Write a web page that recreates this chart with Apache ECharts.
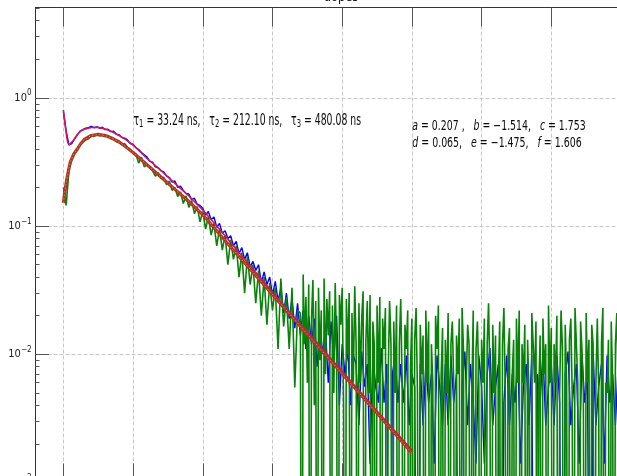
<!DOCTYPE html>
<html><head><meta charset="utf-8">
<script src="https://cdn.jsdelivr.net/npm/echarts@6/dist/echarts.min.js"></script>
<style>html,body{margin:0;padding:0;background:#fff}#c{width:617px;height:476px}</style>
</head><body><div id="c"></div>
<script>
// ---- data ----
const blueStepNs = 8;              // blue decay: one sample every 8 ns from t = 0
const blueData = [
0.78,0.55,0.43,0.44,0.48,0.515,0.55,0.565,0.58,0.585,
0.60,0.585,0.595,0.58,0.59,0.565,0.57,0.545,0.55,0.52,
0.515,0.49,0.485,0.47,0.44,0.435,0.41,0.395,0.375,0.36,
0.345,0.32,0.315,0.29,0.285,0.27,0.265,0.245,0.24,0.22,
0.225,0.2,0.205,0.19,0.18,0.178,0.16,0.165,0.148,0.145,
0.138,0.122,0.13,0.112,0.118,0.098,0.105,0.088,0.092,0.08,
0.084,0.07,0.076,0.061,0.068,0.055,0.062,0.048,0.053,0.045,
0.05,0.036,0.044,0.035,0.04,0.029,0.037,0.026,0.033,0.021,
0.03,0.019,0.027,0.016,0.025,0.014,0.022,0.011,0.02,0.012,
0.019,0.008,0.017,0.01,0.016,0.006,0.018,0.009,0.02,0.004,
0.012,
0.007,0.011,0.004,0.0098,0.0084,0.0028,0.0105,0.0056,0.0084,0.0014,0.0098,0.0056,0.0042,0.0112,0.0042,0.0084,0,0.007,0.0098,0.0042,
0.0084,0.0042,0.0098,0.0028,0.007,0.0056,0,0.0084,0.0028,0.0084,0.0042,0.007,0.0014,0.0098,0.0056,0.0028,0.0084,0.0028,0.0098,0.0042,
0.007,0,0.0056,0.0105,0.0028,0.0084,0.0042,0.0014,0.0098,0.0056,0.0014,0.007,0.0112,0.0028,0.0056,0.0084,0,0.0042,0.0098,0.0028,
0.007,0.0042,0.0098,0.0014,0.0056,0.0084,0.0028,0.0098,0,0.007,0.0042,0.0105,0.0028,0.0056,0.0084,0.0028,0.0098,0.0042,0,0.007,
0.0105,0.0028,0.0056,0.0084,0.0014,0.0098,0.0042,0.007,0,0.0105,0.0028,0.0056,0.0084,0.0014,0.0098,0.0042,0.007,0.0028,0.0084
];
const greenEarlyStepNs = 8;        // green decay, t = 0 … 672 ns
const greenEarly = [
0.2,0.145,0.27,0.33,0.37,0.39,0.43,0.45,0.47,0.48,
0.51,0.5,0.52,0.505,0.515,0.5,0.51,0.48,0.485,0.455,
0.46,0.43,0.44,0.41,0.395,0.37,0.365,0.31,0.345,0.29,
0.3,0.285,0.27,0.245,0.262,0.235,0.24,0.21,0.225,0.19,
0.2,0.17,0.185,0.15,0.172,0.14,0.158,0.125,0.142,0.108,
0.13,0.095,0.118,0.085,0.105,0.07,0.095,0.065,0.085,0.05,
0.078,0.055,0.07,0.04,0.062,0.03,0.058,0.035,0.05,0.025,
0.045,0.02,0.04,0.017,0.036,0.022,0.033,0.011,0.039,0.0165,
0.028,0.011,0.033,0.0055,0.022
];
const greenLateStartNs = 680;      // green decay tail, t = 680 … 1596 ns
const greenLateStepNs = 4;
const greenLate = [
0.021,0,0.042,0.012,0.028,0.006,0.035,0,0.019,0.038,0.004,0.026,0,0.033,0.009,0.022,0,0.039,0.007,0.027,
0.014,0.031,0,0.024,0.005,0.036,0.011,0,0.029,0.017,0.033,0.004,0,0.027,0.01,0.03,0,0.021,0.006,0.034,
0.012,0,0.025,0.006,0.019,0.031,0,0.013,0.026,0.005,0.029,0,0.018,0.012,0,0.024,0.006,0.028,0,0.019,
0.011,0.023,0,0.007,0.026,0.012,0,0.018,0.005,0.024,0,0.012,0.027,0.006,0,0.017,0.011,0.022,0,0.008,
0.019,0,0.013,0.023,0.005,0,0.017,0.007,0.014,0,0.022,0.006,0.018,0,0.012,0.006,0,0.02,0.011,0.024,
0,0.007,0.016,0,0.013,0.005,0.021,0,0.012,0.018,0.006,0,0.014,0.007,0.019,0,0.023,0.011,0,0.006,
0.017,0.012,0,0.005,0.022,0,0.011,0.018,0.006,0,0.013,0.006,0.019,0,0.012,0.025,0.006,0,0.017,0.005,
0.014,0,0.006,0.018,0,0.012,0.023,0.005,0,0.011,0.016,0,0.007,0.013,0,0.019,0.006,0.022,0,0.012,
0.006,0.017,0,0.013,0.005,0,0.021,0.012,0.006,0.018,0,0.005,0.014,0,0.019,0.007,0.012,0,0.024,0.006,
0.016,0,0.012,0.006,0.02,0,0.005,0.022,0.011,0,0.017,0.006,0,0.013,0.019,0.005,0,0.023,0.012,0.006,
0,0.018,0.011,0.005,0,0.021,0.006,0.013,0,0.017,0.012,0,0.006,0.019,0.005,0,0.012,0.023,0,0.006,
0.005,0.013,0,0.018,0.006,0,0.012,0.021,0.005,0.016
];
const fitTimes = [0,4,8,12,16,20,30,40,50,60,80,100,120,140,160,180,200,240,280,320,360,400,450,500,550,600,650,700,750,800,850,900,950,1000];
const blueFit = [0.8045,0.6486,0.5323,0.4529,0.4291,0.4330,0.4695,0.5181,0.5517,0.5688,0.5875,0.5886,0.5720,0.5450,0.5079,0.4712,0.4291,0.3367,0.2715,0.2153,0.1717,0.1335,0.0932,0.0639,0.0442,0.0306,0.0212,0.01506,0.01051,0.00737,0.00517,0.00361,0.00254,0.00179];
const greenFit = [0.1514,0.1845,0.2169,0.2503,0.2839,0.3162,0.3650,0.3994,0.4408,0.4737,0.5088,0.5190,0.5079,0.4840,0.4529,0.4140,0.3750,0.3012,0.2415,0.1933,0.1555,0.1225,0.0852,0.0595,0.0417,0.0293,0.0205,0.01435,0.01005,0.00705,0.00494,0.00347,0.00243,0.00170];
const xTicks = [0,200,400,600,800,1000,1200,1400,1600];
const yMajorTicks = [0.001,0.01,0.1,1];
const yMinorTicks = [0.002,0.003,0.004,0.005,0.006,0.007,0.008,0.009,0.02,0.03,0.04,0.05,0.06,0.07,0.08,0.09,0.2,0.3,0.4,0.5,0.6,0.7,0.8,0.9,2,3,4,5];
const xRange = [-80, 1700];
const yRange = [0.001, 5.07];
const tauText = [['τ','n'],['1','sub'],[' = 33.24 ns,   ','n'],['τ','n'],['2','sub'],[' = 212.10 ns,   ','n'],['τ','n'],['3','sub'],[' = 480.08 ns','n']];
const paramLine1 = [['a','i'],[' = 0.207 ,   ','n'],['b','i'],[' = −1.514,   ','n'],['c','i'],[' = 1.753','n']];
const paramLine2 = [['d','i'],[' = 0.065,   ','n'],['e','i'],[' = −1.475,   ','n'],['f','i'],[' = 1.606','n']];
const titleText = 'dopes';

// ---- helpers ----
const LOG_FLOOR = 1e-6; // zero counts fall below the log axis (clipped), as in the original plot
const clipZero = (v) => (v > 0 ? v : LOG_FLOOR);
const toPairs = (vals, start, step) => vals.map((v, i) => [start + i * step, clipZero(v)]);
const fitPairs = (vals) => vals.map((v, i) => [fitTimes[i], v]);
const greenPairs = toPairs(greenEarly, 0, greenEarlyStepNs).concat(toPairs(greenLate, greenLateStartNs, greenLateStepNs));

const FONT = 'DejaVu Sans';
const ctx = document.createElement('canvas').getContext('2d');
function buildRich(tokens, size) {
  const styles = {
    n: { fontSize: size, fontFamily: FONT, fill: '#0a0a0a' },
    i: { fontSize: size, fontFamily: FONT, fontStyle: 'italic', fill: '#0a0a0a' },
    sub: { fontSize: Math.round(size * 0.7), fontFamily: FONT, fill: '#0a0a0a', padding: [7, 0, 0, 0] }
  };
  let w = 0;
  tokens.forEach(([s, k]) => {
    const st = styles[k];
    ctx.font = (st.fontStyle ? 'italic ' : '') + st.fontSize + 'px "' + FONT + '"';
    w += ctx.measureText(s).width;
  });
  return { text: tokens.map(([s, k]) => '{' + k + '|' + s + '}').join(''), rich: styles, width: w };
}
function textEl(tokens, size, left, right, cy) {
  const r = buildRich(tokens, size);
  return { type: 'text', x: left, y: cy, scaleX: (right - left) / r.width, z: 100,
    style: { text: r.text, rich: r.rich, fill: '#0a0a0a', font: size + 'px "' + FONT + '"', align: 'left', verticalAlign: 'middle' } };
}

const chart = echarts.init(document.getElementById('c'), null, { renderer: 'canvas' });
const gridColor = '#c8c8c8';
const axisColor = '#333';
chart.setOption({
  animation: false,
  backgroundColor: '#fff',
  grid: { left: 35.5, top: 7.5, width: 620.35, height: 475, containLabel: false, outerBoundsMode: 'none' },
  xAxis: [
    { type: 'value', position: 'bottom', min: xRange[0], max: xRange[1],
      axisLine: { show: true, onZero: false, lineStyle: { color: axisColor, width: 1 } },
      axisTick: { show: true, inside: true, length: 19, customValues: xTicks, lineStyle: { color: '#555' } },
      axisLabel: { show: false },
      splitLine: { show: true, lineStyle: { color: gridColor, type: [4, 2], width: 1 } } },
    { type: 'value', position: 'top', min: xRange[0], max: xRange[1],
      axisLine: { show: true, onZero: false, lineStyle: { color: axisColor, width: 1 } },
      axisTick: { show: true, inside: true, length: 19, customValues: xTicks, lineStyle: { color: '#555' } },
      axisLabel: { show: false }, splitLine: { show: false } }
  ],
  yAxis: [
    { type: 'log', logBase: 10, min: yRange[0], max: yRange[1], position: 'left',
      axisLine: { show: true, onZero: false, lineStyle: { color: axisColor, width: 1 } },
      axisTick: { show: true, inside: true, length: 13.5, customValues: yMajorTicks, lineStyle: { color: '#555' } },
      axisLabel: { show: true, margin: 4, customValues: yMajorTicks,
        formatter: (v) => { const e = Math.round(Math.log10(v)); return '{b|10}{s|' + (e < 0 ? '−' + (-e) : e) + '}'; },
        rich: { b: { fontSize: 11, fontFamily: "'DejaVu Sans Condensed', 'DejaVu Sans'", color: '#222' },
                s: { fontSize: 8, fontFamily: "'DejaVu Sans Condensed', 'DejaVu Sans'", color: '#222', padding: [0, 0, 9, 0] } } },
      splitLine: { show: true, lineStyle: { color: gridColor, type: [4, 2], width: 1 } } },
    { type: 'log', logBase: 10, min: yRange[0], max: yRange[1], position: 'left',
      axisLine: { show: false, onZero: false },
      axisTick: { show: true, inside: true, length: 4, customValues: yMinorTicks, lineStyle: { color: '#555' } },
      axisLabel: { show: false }, splitLine: { show: false } }
  ],
  series: [
    { name: 'blue data', type: 'line', data: toPairs(blueData, 0, blueStepNs), showSymbol: false, symbol: 'none', z: 2,
      lineStyle: { color: '#0000ff', width: 1.4 } },
    { name: 'green data', type: 'line', data: greenPairs, showSymbol: false, symbol: 'none', z: 3,
      lineStyle: { color: '#088208', width: 1.6 } },
    { name: 'blue fit', type: 'line', data: fitPairs(blueFit), showSymbol: false, symbol: 'none', z: 4,
      lineStyle: { color: '#d4145a', width: 1.6 } },
    { name: 'green fit', type: 'line', data: fitPairs(greenFit), showSymbol: false, symbol: 'none', z: 5,
      lineStyle: { color: '#a8381f', width: 3.2 } },
    { name: 'green fit core', type: 'line', data: fitPairs(greenFit), showSymbol: false, symbol: 'none', z: 6,
      lineStyle: { color: '#e57b66', width: 1, type: [1.5, 2] } }
  ],
  graphic: [
    textEl(tauText, 15, 133.5, 361, 121),
    textEl(paramLine1, 14, 412.3, 585.7, 126),
    textEl(paramLine2, 14, 412.3, 581.7, 143),
    { type: 'text', x: 341, y: 4.8, scaleX: 0.82, z: 100,
      style: { text: titleText, font: '14px "DejaVu Sans"', fill: '#111', align: 'center', verticalAlign: 'bottom' } }
  ]
});
</script></body></html>
